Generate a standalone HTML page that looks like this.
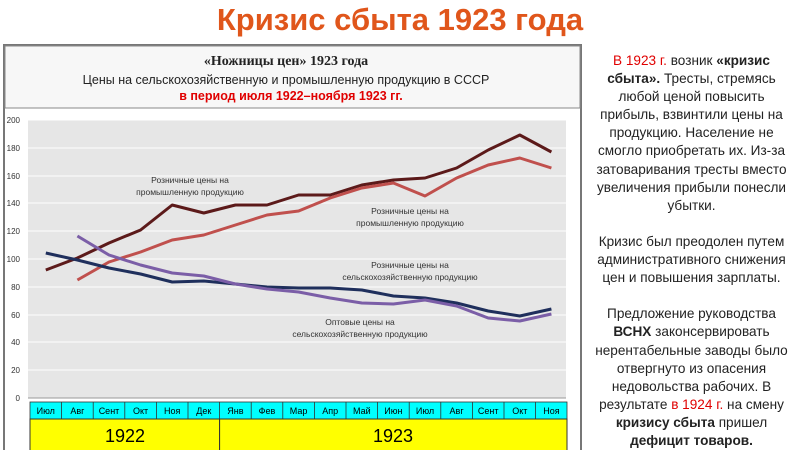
<!DOCTYPE html><html><head><meta charset="utf-8"><style>
body{margin:0;width:800px;height:450px;overflow:hidden;background:#fff;font-family:"Liberation Sans",sans-serif;position:relative}
.t{position:absolute;left:0;width:800px;top:2px;text-align:center;font-size:31px;font-weight:bold;color:#e0561b}
.side{position:absolute;left:583px;top:52px;width:217px;text-align:center;font-size:13.6px;line-height:18.1px;color:#222;white-space:nowrap}
.r{color:#e00000}
</style></head><body>
<div class="t">Кризис сбыта 1923 года</div>
<svg width="800" height="450" style="position:absolute;left:0;top:0">
<rect x="4" y="45" width="577" height="410" fill="#fff" stroke="#777" stroke-width="2"/>
<rect x="5" y="46" width="575" height="62" fill="#f7f7f7" stroke="#888"/>
<text x="286" y="65" text-anchor="middle" font-family="Liberation Serif" font-size="14" font-weight="bold" fill="#222">«Ножницы цен» 1923 года</text>
<text x="286" y="84" text-anchor="middle" font-size="12.5" fill="#222">Цены на сельскохозяйственную и промышленную продукцию в СССР</text>
<text x="291" y="100" text-anchor="middle" font-size="12.5" font-weight="bold" fill="#e00000">в период июля 1922–ноября 1923 гг.</text>
<rect x="28" y="120" width="538" height="278" fill="#e6e6e6"/>
<g stroke="#fff" stroke-width="1">
<line x1="28" x2="566" y1="120" y2="120"/><line x1="28" x2="566" y1="148" y2="148"/><line x1="28" x2="566" y1="176" y2="176"/><line x1="28" x2="566" y1="203" y2="203"/><line x1="28" x2="566" y1="231" y2="231"/><line x1="28" x2="566" y1="259" y2="259"/><line x1="28" x2="566" y1="287" y2="287"/><line x1="28" x2="566" y1="315" y2="315"/><line x1="28" x2="566" y1="342" y2="342"/><line x1="28" x2="566" y1="370" y2="370"/></g>
<line x1="28" x2="566" y1="398" y2="398" stroke="#999"/>
<g font-size="8" fill="#333" text-anchor="end">
<text x="20" y="123">200</text><text x="20" y="151">180</text><text x="20" y="179">160</text><text x="20" y="206">140</text><text x="20" y="234">120</text><text x="20" y="262">100</text><text x="20" y="290">80</text><text x="20" y="318">60</text><text x="20" y="345">40</text><text x="20" y="373">20</text><text x="20" y="401">0</text></g>
<g fill="none" stroke-width="3" stroke-linejoin="round">
<polyline stroke="#5c1a1a" points="45.8,270 77.4,258 109,243 140.6,230 172.2,205 203.8,213 235.4,205 267,205 298.6,195 330.2,195 361.8,185 393.4,180 425,178 456.6,168 488.2,150 519.8,135 551.4,152"/>
<polyline stroke="#c0504d" points="77.4,280 109,262 140.6,252 172.2,240 203.8,235 235.4,225 267,215 298.6,211 330.2,198 361.8,188 393.4,183 425,196 456.6,178 488.2,165 519.8,158 551.4,168"/>
<polyline stroke="#1f2f5c" points="45.8,253 77.4,260 109,268 140.6,274 172.2,282 203.8,281 235.4,284 267,287 298.6,288 330.2,288 361.8,290 393.4,296 425,298 456.6,303 488.2,311 519.8,316 551.4,309"/>
<polyline stroke="#7b5ea7" points="77.4,236 109,255 140.6,265 172.2,273 203.8,276 235.4,284 267,289 298.6,292 330.2,298 361.8,303 393.4,304 425,300 456.6,306 488.2,318 519.8,321 551.4,314"/>
</g>
<g font-size="8.5" fill="#333" text-anchor="middle">
<text x="190" y="183">Розничные цены на</text><text x="190" y="195">промышленную продукцию</text>
<text x="410" y="214">Розничные цены на</text><text x="410" y="226">промышленную продукцию</text>
<text x="410" y="268">Розничные цены на</text><text x="410" y="280">сельскохозяйственную продукцию</text>
<text x="360" y="325">Оптовые цены на</text><text x="360" y="337">сельскохозяйственную продукцию</text></g>
<rect x="30" y="402" width="537" height="17" fill="#00ffff" stroke="#333" stroke-width="0.8"/>
<g stroke="#333" stroke-width="0.8">
<line x1="61.6" x2="61.6" y1="402" y2="419"/><line x1="93.2" x2="93.2" y1="402" y2="419"/><line x1="124.8" x2="124.8" y1="402" y2="419"/><line x1="156.4" x2="156.4" y1="402" y2="419"/><line x1="188" x2="188" y1="402" y2="419"/><line x1="219.6" x2="219.6" y1="402" y2="419"/><line x1="251.2" x2="251.2" y1="402" y2="419"/><line x1="282.8" x2="282.8" y1="402" y2="419"/><line x1="314.4" x2="314.4" y1="402" y2="419"/><line x1="346" x2="346" y1="402" y2="419"/><line x1="377.6" x2="377.6" y1="402" y2="419"/><line x1="409.2" x2="409.2" y1="402" y2="419"/><line x1="440.8" x2="440.8" y1="402" y2="419"/><line x1="472.4" x2="472.4" y1="402" y2="419"/><line x1="504" x2="504" y1="402" y2="419"/><line x1="535.6" x2="535.6" y1="402" y2="419"/></g>
<g font-size="9" fill="#000" text-anchor="middle">
<text x="45.8" y="414">Июл</text><text x="77.4" y="414">Авг</text><text x="109" y="414">Сент</text><text x="140.6" y="414">Окт</text><text x="172.2" y="414">Ноя</text><text x="203.8" y="414">Дек</text><text x="235.4" y="414">Янв</text><text x="267" y="414">Фев</text><text x="298.6" y="414">Мар</text><text x="330.2" y="414">Апр</text><text x="361.8" y="414">Май</text><text x="393.4" y="414">Июн</text><text x="425" y="414">Июл</text><text x="456.6" y="414">Авг</text><text x="488.2" y="414">Сент</text><text x="519.8" y="414">Окт</text><text x="551.4" y="414">Ноя</text></g>
<rect x="30" y="419" width="189.6" height="33" fill="#ffff00" stroke="#333"/>
<rect x="219.6" y="419" width="347.4" height="33" fill="#ffff00" stroke="#333"/>
<text x="125" y="442" text-anchor="middle" font-size="18" fill="#000">1922</text>
<text x="393" y="442" text-anchor="middle" font-size="18" fill="#000">1923</text>
</svg>
<div class="side"><span class="r">В 1923 г.</span> возник <b>«кризис</b><br><b>сбыта».</b> Тресты, стремясь<br>любой ценой повысить<br>прибыль, взвинтили цены на<br>продукцию. Население не<br>смогло приобретать их. Из-за<br>затоваривания тресты вместо<br>увеличения прибыли понесли<br>убытки.<br><br>Кризис был преодолен путем<br>административного снижения<br>цен и повышения зарплаты.<br><br>Предложение руководства<br><b>ВСНХ</b> законсервировать<br>нерентабельные заводы было<br>отвергнуто из опасения<br>недовольства рабочих. В<br>результате <span class="r">в 1924 г.</span> на смену<br><b>кризису сбыта</b> пришел<br><b>дефицит товаров.</b></div>
</body></html>
